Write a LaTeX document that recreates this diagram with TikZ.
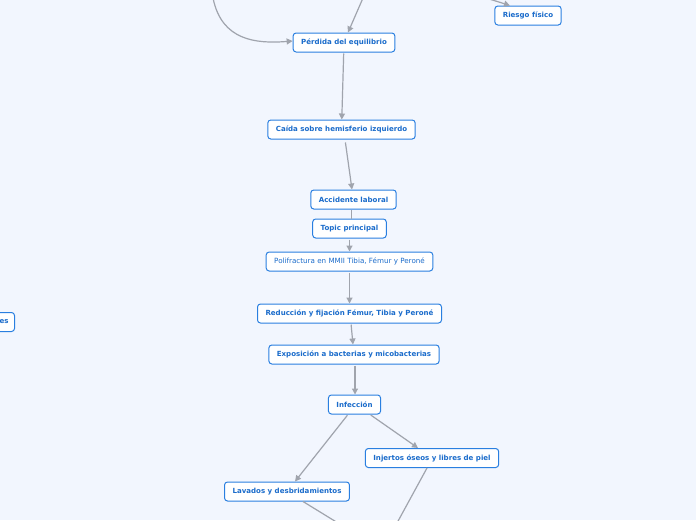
\documentclass[tikz,border=0pt]{standalone}
\usepackage{fontspec}
\setmainfont{DejaVu Sans}
\usepackage{tikz}
\usetikzlibrary{arrows.meta, positioning, calc}
\definecolor{bgblue}{HTML}{F2F6FE}
\definecolor{topicblue}{HTML}{2A7FE0}
\definecolor{textblue}{HTML}{1B6CCB}
\definecolor{linkgray}{HTML}{A0A4AD}
\tikzset{
    topic/.style={rectangle, draw=topicblue, line width=1pt, rounded corners=3pt, fill=white, text=textblue, font=\fontsize{7.05}{8}\selectfont\bfseries, inner xsep=8pt, minimum height=19pt},
    topic_plain/.style={topic, font=\fontsize{7.15}{8}\selectfont},
    link/.style={draw=linkgray, line width=1.2pt},
    arrow/.style={link, -{Triangle[length=6pt, width=6pt]}, shorten <=1pt}
}
\begin{document}
\begin{tikzpicture}[x=1pt, y=-1pt]
			\fill[bgblue] (0,0) rectangle (696,520);
			\clip (0,0) rectangle (696,520);
			\node (perdida) [topic] at (344,42.5) {Pérdida del equilibrio};
			\node (riesgo) [topic] at (528,15.5) {Riesgo físico};
			\node (caida) [topic] at (341.5,129.5) {Caída sobre hemisferio izquierdo};
			\node (accidente) [topic] at (353.5,199.5) {Accidente laboral};
			\node (central) [topic] at (349.5,228.5) {Topic principal};
			\node (polifractura) [topic_plain] at (349.5,261.5) {Polifractura en MMII Tibia, Fémur y Peroné};
			\node (reduccion) [topic] at (349.5,313.5) {Reducción y fijación Fémur, Tibia y Peroné};
			\node (exposicion) [topic] at (354,354.5) {Exposición a bacterias y micobacterias};
			\node (infeccion) [topic] at (354.5,404.5) {Infección};
			\node (injertos) [topic] at (432,458) {Injertos óseos y libres de piel};
			\node (lavados) [topic] at (287,491.5) {Lavados y desbridamientos};
			\node (lateral) [topic, anchor=east, text width=50pt, align=right, inner xsep=6pt] at (15,322) {es};
			
			\coordinate (curve_in) at (213,-2);
			\coordinate (perdida_in) at (363,-2);
			\coordinate (riesgo_in) at (486,-2);
			\coordinate (lavados_out) at (338,523);
			\coordinate (injertos_out) at (397,523);
			
			\draw [arrow] (curve_in) .. controls (222,40) and (255,44) .. ([yshift=1.5]perdida.west);
			\draw [arrow] (perdida_in) -- ([xshift=4]perdida.north);
			\draw [arrow] (riesgo_in) -- ([xshift=-18]riesgo.north);
			\draw [arrow] (perdida) -- (caida);
			\draw [arrow, shorten <=3pt] ([xshift=3.5]caida.south) -- ([xshift=-1.5]accidente.north);
			\draw [link] ([xshift=-2]accidente.south) -- ([xshift=2]central.north);
			\draw [arrow] (central) -- (polifractura);
			\draw [arrow] (polifractura) -- (reduccion);
			\draw [arrow] ([xshift=1.5]reduccion.south) -- ([xshift=-1]exposicion.north);
			\draw [arrow] ([xshift=1]exposicion.south) -- ([xshift=0.5]infeccion.north);
			\draw [arrow] ([xshift=-6.5]infeccion.south) -- ([xshift=8]lavados.north);
			\draw [arrow] ([xshift=15.5]infeccion.south) -- ([xshift=-14]injertos.north);
			\draw [link] ([xshift=16]lavados.south) -- (lavados_out);
			\draw [link] ([xshift=-5]injertos.south) -- (injertos_out);
		\end{tikzpicture}
\end{document}
